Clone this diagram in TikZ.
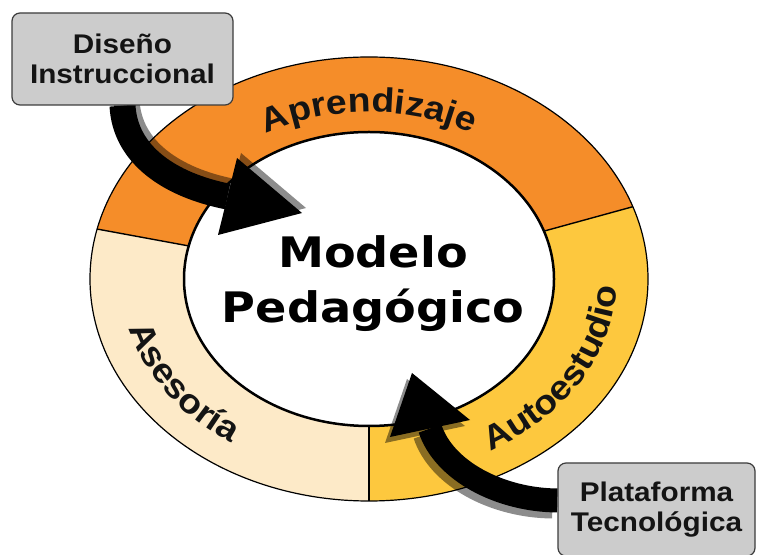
\documentclass[tikz,border=0pt]{standalone}
\usepackage{fontspec}
\setmainfont{Liberation Sans}
\newfontfamily\boxfont{Liberation Sans}[FakeStretch=1.1]
\newfontfamily\modelfont{DejaVu Sans}[FakeStretch=1.1]
\usetikzlibrary{decorations.text,backgrounds}
\definecolor{aprend}{RGB}{245,141,41}
\definecolor{autoest}{RGB}{253,200,62}
\definecolor{asesor}{RGB}{253,234,200}
\definecolor{boxgray}{RGB}{204,204,204}
\definecolor{boxline}{RGB}{60,60,60}
\definecolor{ink}{RGB}{20,20,20}
\newcommand\ringfont{\boxfont\bfseries\fontsize{34}{34}\selectfont\color{ink}}

\begin{document}
\begin{tikzpicture}[x=1pt,y=1pt,
    box/.style={draw=boxline, line width=1.2pt, fill=boxgray, rounded corners=8pt,
      minimum width=221pt, minimum height=92pt, inner sep=0pt, align=center,
      font=\boxfont\bfseries\fontsize{27}{30}\selectfont, text=ink},
    shaft/.style={line width=26pt},
    ringtext/.style={decorate, decoration={text along path, text align=center,
      text={|\ringfont|#1}}}]
    \useasboundingbox (0,0) rectangle (757,554);
    \clip (0,0) rectangle (757,554);

    \node[box] (disenio) at (122.5,495) {Diseño\\Instruccional};
    \node[box, minimum width=197pt, minimum height=93pt] (plataforma) at (656.5,44.5) {Plataforma\\Tecnológica};
    \node[font=\modelfont\bfseries\fontsize{42}{55}\selectfont, align=center] (modelo) at (373,270) {Modelo\\Pedagógico};

    \coordinate (tipA) at (302,341);
    \coordinate (baseA) at (227.5,357.5);
    \coordinate (tipB) at (412,181);
    \coordinate (baseB) at (430,125.5);

    \begin{scope}[on background layer]
        % ring
        \begin{scope}[shift={(369,275)}]
            \fill[aprend] (19:279 and 222) arc[start angle=19, end angle=167, x radius=279, y radius=222]
                -- (167:185 and 147) arc[start angle=167, end angle=19, x radius=185, y radius=147] -- cycle;
            \fill[asesor] (167:279 and 222) arc[start angle=167, end angle=270, x radius=279, y radius=222]
                -- (270:185 and 147) arc[start angle=270, end angle=167, x radius=185, y radius=147] -- cycle;
            \fill[autoest] (-90:279 and 222) arc[start angle=-90, end angle=19, x radius=279, y radius=222]
                -- (19:185 and 147) arc[start angle=19, end angle=-90, x radius=185, y radius=147] -- cycle;
            \foreach \a in {19,167,270}
                \draw[line width=1.4pt] (\a:185 and 147) -- (\a:279 and 222);
            \draw[line width=1.2pt] (0,0) ellipse [x radius=279, y radius=222];
            \draw[line width=2.5pt] (0,0) ellipse [x radius=185, y radius=147];

            \path[ringtext=Aprendizaje] (150:210 and 167) arc[start angle=150, end angle=30, x radius=210, y radius=167];
            \path[ringtext=Autoestudio] (-75:248 and 197) arc[start angle=-75, end angle=15, x radius=248, y radius=197];
            \path[ringtext=Asesoría] (168:248 and 197) arc[start angle=168, end angle=258, x radius=248, y radius=197];
        \end{scope}

        % shadows
        \begin{scope}[transform canvas={shift={(4pt,5pt)}}]
            \begin{scope}[transparency group, opacity=0.45]
                \draw[shaft] (disenio.south) .. controls (125,399) and (170,369) .. (baseA);
                \fill (218,319) -- (tipA) -- (237,396) -- cycle;
            \end{scope}
        \end{scope}
        \begin{scope}[transform canvas={shift={(-5pt,-6pt)}}]
            \begin{scope}[transparency group, opacity=0.45]
                \draw[shaft, line width=24pt] ([yshift=9pt]plataforma.west) .. controls (500,54) and (444,83) .. (baseB);
                \fill (470,134) -- (tipB) -- (390,117) -- cycle;
            \end{scope}
        \end{scope}

        % arrows
        \draw[shaft] (disenio.south) .. controls (125,399) and (170,369) .. (baseA);
        \fill (218,319) -- (tipA) -- (237,396) -- cycle;
        \draw[shaft, line width=24pt] ([yshift=9pt]plataforma.west) .. controls (500,54) and (444,83) .. (baseB);
        \fill (470,134) -- (tipB) -- (390,117) -- cycle;
    \end{scope}
\end{tikzpicture}
\end{document}
